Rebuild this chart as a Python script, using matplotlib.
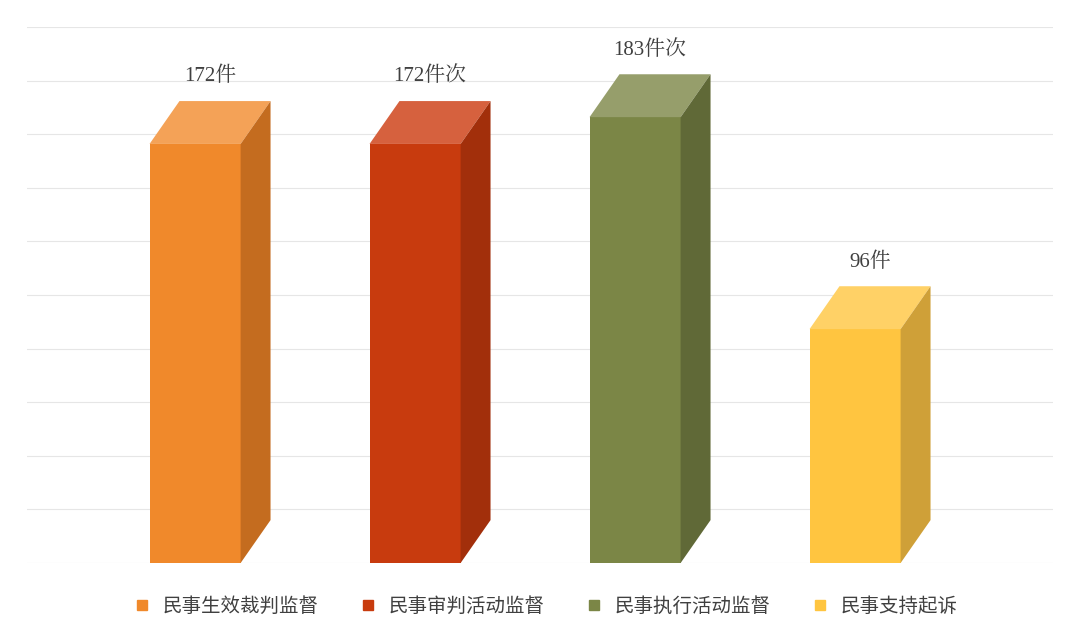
import matplotlib
matplotlib.use("Agg")
import matplotlib.pyplot as plt
from matplotlib.patches import Polygon, Rectangle
from matplotlib.lines import Line2D

categories = ["民事生效裁判监督", "民事审判活动监督", "民事执行活动监督", "民事支持起诉"]
values = [172, 172, 183, 96]
labels = ["172件", "172件次", "183件次", "96件"]
front = ["#F0892B", "#C83B0E", "#7B8646", "#FFC540"]
top = ["#F4A257", "#D6613E", "#969E6B", "#FFD166"]
side = ["#C46C1F", "#A22F0B", "#606937", "#CFA038"]

fig = plt.figure(figsize=(10.8, 6.44), dpi=100)
ax = fig.add_axes([27/1080, 1-563/644, 1026/1080, 536/644])
ax.set_xlim(-0.764, -0.764 + 1026/220)
ax.set_ylim(0, 220)
for g in range(0, 221, 22):
    ax.axhline(g, color="#E6E6E6", lw=0.8, zorder=0)
for s in ax.spines.values():
    s.set_visible(False)
ax.set_xticks([]); ax.set_yticks([])

w = 0.414; dx = 0.136; dy = 17.6
for i, v in enumerate(values):
    x0 = i - w/2; x1 = i + w/2
    ax.add_patch(Rectangle((x0, 0), w, v, color=front[i], zorder=3, lw=0))
    ax.add_patch(Polygon([(x0, v), (x1, v), (x1+dx, v+dy), (x0+dx, v+dy)], closed=True, color=top[i], zorder=3, lw=0, clip_on=False))
    ax.add_patch(Polygon([(x1, 0), (x1+dx, dy), (x1+dx, v+dy), (x1, v)], closed=True, color=side[i], zorder=3, lw=0, clip_on=False))
    ax.text(i + dx/2, v + dy + 6, labels[i], ha="center", va="bottom", fontsize=15,
            family=["Liberation Serif", "Noto Serif CJK SC", "Noto Sans CJK SC"], color="#404040", zorder=4)

handles = [Line2D([], [], marker="s", ls="", color=c, markersize=7) for c in front]
fig.legend(handles, categories, loc="center", bbox_to_anchor=(0.5, 1-606/644), ncol=4,
           frameon=False, prop={"family": "Noto Sans CJK SC", "size": 14}, labelcolor="#404040",
           handletextpad=0.1, columnspacing=1.5)
fig.savefig("out.png", dpi=100, facecolor="white")
